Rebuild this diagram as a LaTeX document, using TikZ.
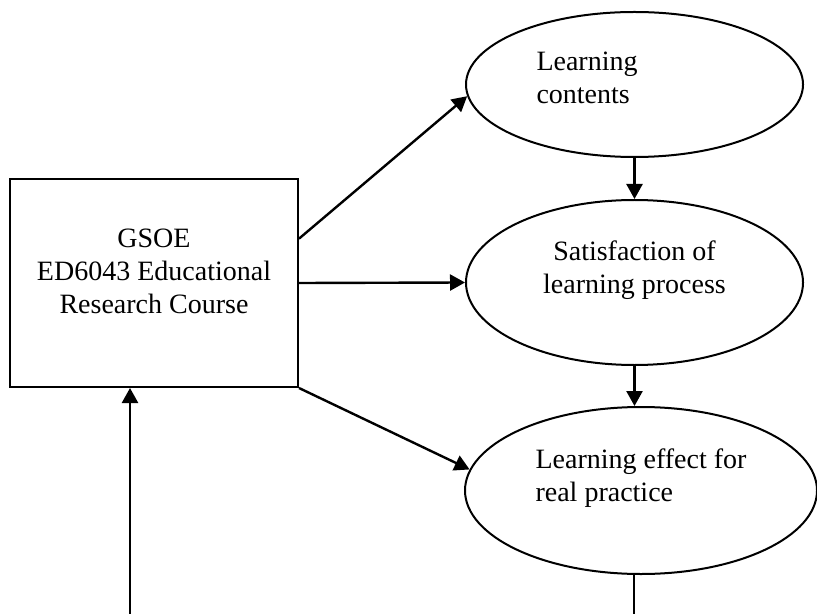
\documentclass[tikz,border=0pt]{standalone}
\usepackage{fontspec}
\setmainfont{Liberation Serif}
\usepackage{tikz}
\usetikzlibrary{shapes.geometric, arrows.meta, positioning}
\newcommand{\lifted}[2]{\raisebox{#1}[\height][\depth]{#2}}
\tikzset{
  box/.style={rectangle, draw, line width=1pt,
    minimum width=144pt, minimum height=104pt, inner sep=0pt},
  oval/.style={ellipse, draw, line width=1pt, inner sep=2pt},
  arrow/.style={-{Triangle[length=7.5pt,width=8pt]}, line width=1.2pt},
  line/.style={line width=1.2pt}
}

\begin{document}
\begin{tikzpicture}[x=0.5pt, y=-0.5pt, font=\fontsize{14}{16.5}\selectfont]
  \useasboundingbox (0,0) rectangle (817,614);

  % --- Course box ---
  \node[box] (gsoe) at (154,283)
    {\lifted{4.6pt}{\begin{tabular}{@{}c@{}}GSOE\\ED6043 Educational\\Research Course\end{tabular}}};

  % --- Outcomes ---
  \node[oval, minimum width=168.5pt, minimum height=72.5pt] (cont) at (634.5,84.5)
    {\lifted{2pt}{\makebox[98pt][l]{\begin{tabular}{@{}l@{}}Learning\\contents\end{tabular}}}};
  \node[oval, minimum width=168.5pt, minimum height=82.5pt] (proc) at (634.5,282.5)
    {\lifted{6pt}{\begin{tabular}{@{}c@{}}Satisfaction of\\learning process\end{tabular}}};
  \node[oval, minimum width=176pt, minimum height=83.5pt] (eff) at (641,490.5)
    {\lifted{6pt}{\begin{tabular}{@{}l@{}}Learning effect for\\real practice\end{tabular}}};

  \draw[arrow] (gsoe.17) -- (cont.184);
  \draw[arrow] (gsoe.east) -- (proc.west);
  \draw[arrow] (gsoe.south east) -- (eff.173);
  \draw[arrow] (cont.south) -- (proc.north);
  \draw[arrow] (proc.south) -- (proc.south |- eff.north);

  % --- Feedback (runs off the page) ---
  \coordinate (loopR) at (634,625);
  \coordinate (loopL) at (130,625);
  \draw[line] (loopR |- eff.south) -- (loopR);
  \draw[arrow] (loopL) -- (loopL |- gsoe.south);
\end{tikzpicture}
\end{document}
